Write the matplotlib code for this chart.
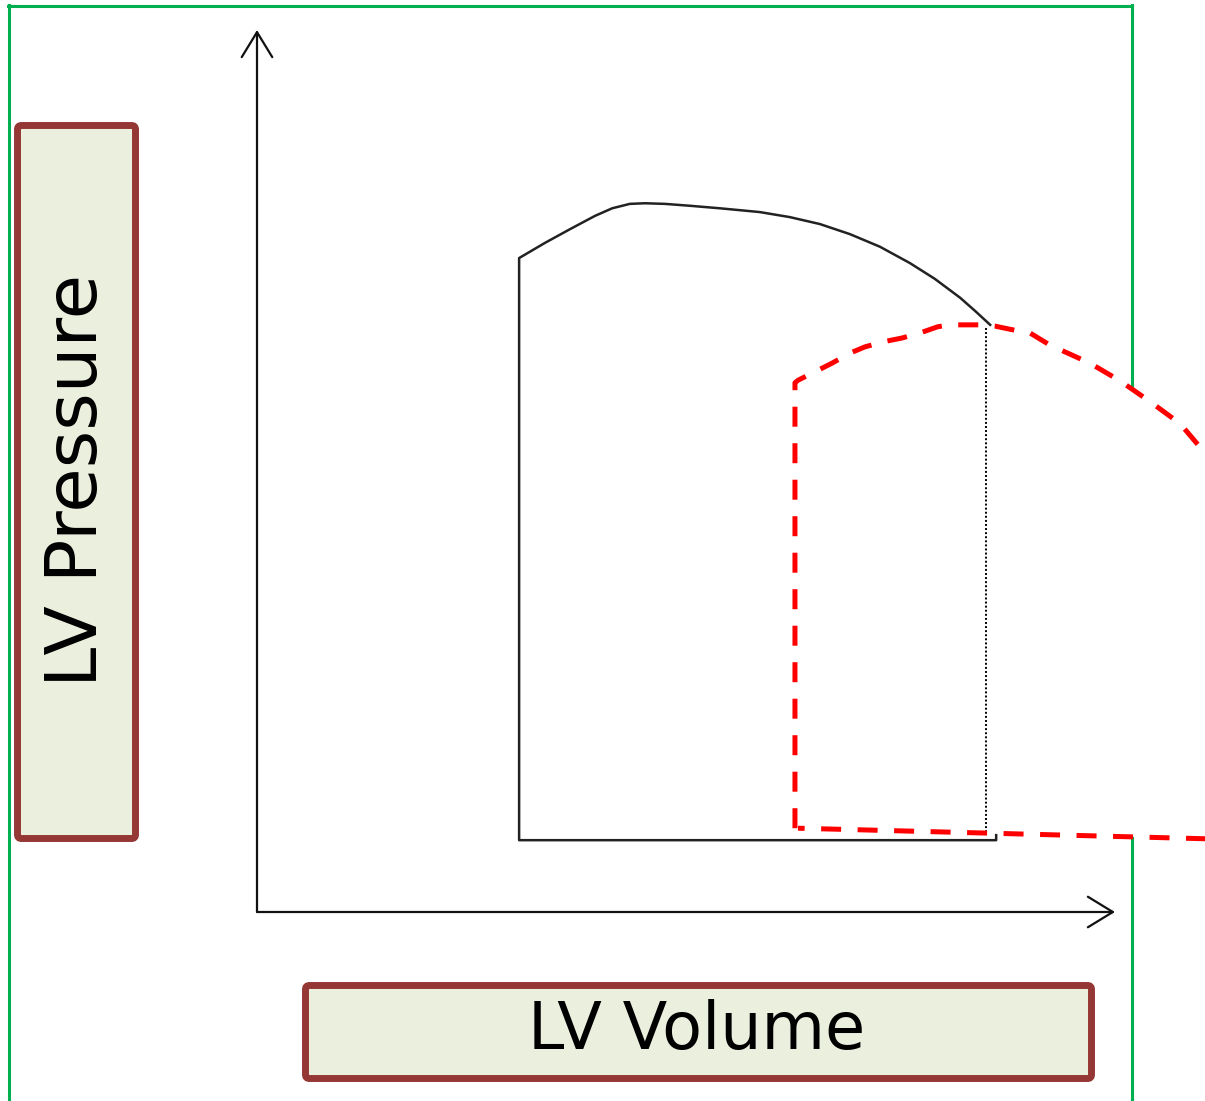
import matplotlib
matplotlib.use("Agg")
import matplotlib.pyplot as plt
from matplotlib.patches import FancyBboxPatch, ArrowStyle
from matplotlib.lines import Line2D
from matplotlib.transforms import IdentityTransform

# ---- data (volume in mL, pressure in mmHg) ----
axis_volume_max = 200.0
axis_pressure_max = 140.0

# baseline loop (solid black)
base_vol = [172.3, 172.3, 61.1, 61.1, 67.1, 73.0, 78.8, 82.8, 86.9, 90.4,
            95.1, 100.9, 107.9, 117.2, 124.2, 131.2, 138.2, 145.2, 152.2,
            158.0, 163.9, 167.4, 170.9]
base_prs = [12.2, 11.4, 11.4, 103.8, 106.2, 108.4, 110.5, 111.7, 112.4, 112.5,
            112.4, 112.1, 111.7, 111.1, 110.3, 109.2, 107.6, 105.6, 103.0,
            100.5, 97.5, 95.4, 93.2]
# end-diastolic volume marker (dotted)
edv_vol = [169.9, 169.9]
edv_prs = [92.7, 12.2]

# shifted loop (red dashed)
new_vol = [125.4, 125.4, 126.1, 130.5, 134.0, 138.2, 141.7, 145.9, 150.3, 154.5,
           158.7, 161.5, 169.2, 172.0, 175.5, 180.2, 184.8, 194.2, 201.2, 208.2,
           215.2, 219.8, 223.3, 229.1, 233.8, 233.8, 126.1]
new_prs = [13.3, 84.0, 84.4, 85.9, 87.1, 88.7, 89.7, 90.5, 91.1, 91.9,
           92.9, 93.2, 93.2, 93.0, 92.5, 91.9, 90.0, 87.1, 84.3, 81.0,
           77.5, 73.8, 70.2, 62.2, 55.0, 11.4, 13.3]

x_label = "LV Volume"
y_label = "LV Pressure"

# ---- figure ----
W, H = 1205, 1101
fig = plt.figure(figsize=(W / 100, H / 100), dpi=100)
ax = fig.add_axes([0, 0, 1, 1])
ax.axis("off")
# pixel mapping: origin at (257, 912) image px
kx = (1115 - 257) / axis_volume_max
ky = (912 - 30) / axis_pressure_max
ax.set_xlim(-257 / kx, (W - 257) / kx)
ax.set_ylim((912 - H) / ky, 912 / ky)

ident = IdentityTransform()

def disp(x, y):
    return x, H - y

# green frame
green = "#00B050"
for (x1, y1, x2, y2) in [(8.5, 5, 8.5, H + 5), (8, 5.5, 1131.5, 5.5), (1131.5, 5, 1131.5, H + 5)]:
    a, b = disp(x1, y1)
    c, d = disp(x2, y2)
    ax.add_line(Line2D([a, c], [b, d], transform=ident, color=green, lw=2.2,
                       zorder=1, clip_on=False))

# axes arrows
style = ArrowStyle("->", head_length=0.9, head_width=0.55)
ax.annotate("", xy=(axis_volume_max, 0), xytext=(0, 0),
            arrowprops=dict(arrowstyle=style, lw=1.6, color="#111111",
                            mutation_scale=20, shrinkA=0, shrinkB=0), zorder=3)
ax.annotate("", xy=(0, axis_pressure_max), xytext=(0, 0),
            arrowprops=dict(arrowstyle=style, lw=1.6, color="#111111",
                            mutation_scale=20, shrinkA=0, shrinkB=0), zorder=3)

# baseline loop
ax.plot(base_vol, base_prs, color="#222222", lw=1.8, zorder=3,
        solid_joinstyle="round")

# shifted loop: white fill + red dashed outline
ax.fill(new_vol, new_prs, color="white", zorder=2, lw=0)
ax.plot(edv_vol, edv_prs, color="black", lw=1.4, ls=(0, (1, 1.1)), zorder=4)
ax.plot(new_vol, new_prs, color="#FF0000", lw=3.6, ls=(0, (4, 3.3)), zorder=5)

# label boxes
edge = "#953735"
face = "#EBEFDE"
for (x1, y1, x2, y2) in [(17.5, 125.5, 135.5, 838.5), (305.5, 985.5, 1091.5, 1078.5)]:
    bx, by = disp(x1, y2)
    box = FancyBboxPatch((bx, by), x2 - x1, y2 - y1,
                         boxstyle="round,pad=0,rounding_size=4",
                         transform=ident, facecolor=face, edgecolor=edge,
                         lw=5, zorder=6, clip_on=False)
    ax.add_patch(box)

tx, ty = disp(697, 1031)
ax.text(tx, ty, x_label, transform=ident, ha="center", va="center",
        fontsize=47, color="black", zorder=7)
tx, ty = disp(78, 480)
ax.text(tx, ty, y_label, transform=ident, ha="center", va="center",
        rotation=90, fontsize=52, color="black", zorder=7)

fig.savefig("out.png", dpi=100, facecolor="white")
